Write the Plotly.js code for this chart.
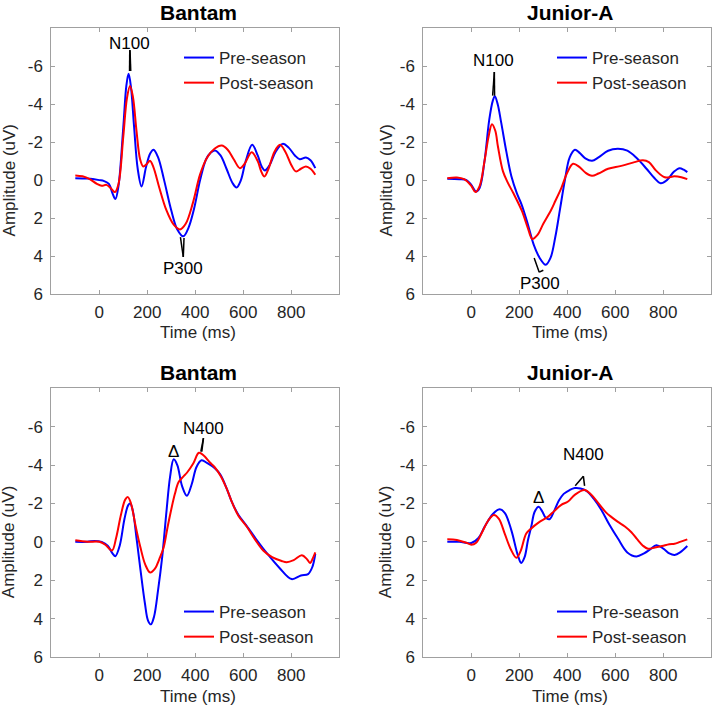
<!DOCTYPE html>
<html>
<head>
<meta charset="utf-8">
<script src="https://cdn.plot.ly/plotly-3.0.1.min.js"></script>
<style>html,body{margin:0;padding:0;background:#fff;}#chart{width:715px;height:709px;}</style>
</head>
<body>
<div id="chart"></div>
<script>
// ---------- data (time in ms, amplitude in uV) ----------
const panelTitles = ['Bantam', 'Junior-A', 'Bantam', 'Junior-A'];
const seriesNames = ['Pre-season', 'Post-season'];
const xTickVals = [0, 200, 400, 600, 800];
const yTickVals = [-6, -4, -2, 0, 2, 4, 6];
const yTickText = ['-6', '-4', '-2', '0', '2', '4', '6'];

// Top-left: Bantam (N100 / P300)
const bantamP3PreT = [-100,-50,0,20,40,55,67,80,100,113,122,132,145,160,176,195,212,226,245,270,300,325,350,372,395,420,445,465,482,505,530,555,572,590,610,637,660,677,690,710,735,764,790,815,835,861,880,900];
const bantamP3PreV = [-0.1,-0.08,0.0,0.05,0.2,0.7,1.0,0.3,-2.8,-5.0,-5.6,-4.9,-2.8,-0.6,0.33,-0.7,-1.4,-1.6,-1.2,0.0,1.6,2.6,2.96,2.5,1.5,0.0,-1.1,-1.45,-1.56,-1.3,-0.6,0.15,0.39,0.0,-1.0,-1.86,-1.3,-0.7,-0.51,-0.8,-1.5,-1.91,-1.7,-1.3,-1.1,-1.19,-1.05,-0.63];
const bantamP3PostT = [-100,-70,-40,-10,10,30,50,65,80,100,115,128,140,155,170,183,198,211,225,250,280,310,336,360,390,420,450,480,510,535,560,586,605,635,660,675,688,705,730,753,775,800,819,840,861,880,900];
const bantamP3PostV = [-0.25,-0.2,-0.05,0.2,0.3,0.25,0.45,0.63,0.2,-2.3,-4.3,-4.96,-4.4,-2.6,-1.1,-0.72,-0.85,-1.02,-0.7,0.4,1.6,2.35,2.6,2.3,1.2,-0.3,-1.2,-1.65,-1.82,-1.6,-1.1,-0.63,-0.85,-1.47,-1.0,-0.45,-0.19,-0.6,-1.5,-1.86,-1.5,-0.8,-0.46,-0.6,-0.72,-0.6,-0.28];

// Top-right: Junior-A (N100 / P300)
const juniorP3PreT = [-100,-50,-20,0,20,35,55,75,90,98,110,125,146,167,190,210,235,260,285,310,330,350,370,390,410,432,450,475,503,530,570,611,650,690,730,760,789,815,845,868,885,900];
const juniorP3PreV = [-0.07,-0.05,0.0,0.25,0.6,0.4,-1.0,-3.2,-4.2,-4.42,-4.0,-3.0,-1.5,-0.2,0.7,1.3,2.3,3.4,4.1,4.46,4.1,3.0,1.5,0.0,-1.2,-1.6,-1.45,-1.15,-1.02,-1.2,-1.55,-1.65,-1.55,-1.15,-0.6,-0.15,0.16,0.0,-0.45,-0.63,-0.55,-0.42];
const juniorP3PostT = [-100,-60,-30,0,17,35,55,72,86,100,111,132,153,175,210,235,254,275,300,333,350,375,400,424,450,475,503,530,570,625,680,715,740,770,806,847,875,900];
const juniorP3PostV = [-0.1,-0.14,-0.05,0.3,0.63,0.3,-1.0,-2.3,-2.95,-2.6,-1.77,-0.46,0.16,0.68,1.6,2.5,3.1,2.9,2.3,1.56,1.1,0.42,-0.4,-0.86,-0.7,-0.4,-0.23,-0.35,-0.6,-0.75,-0.95,-1.05,-0.95,-0.5,-0.15,-0.2,-0.15,-0.05];

// Bottom-left: Bantam (N400)
const bantamN4PreT = [-100,-50,-20,10,35,55,67,85,105,120,129,140,155,170,190,203,215,228,245,262,280,295,310,325,345,365,385,405,426,450,480,505,530,555,580,610,650,700,750,801,840,870,888,900];
const bantamN4PreV = [0.0,0.0,-0.05,0.0,0.2,0.6,0.75,0.2,-1.2,-1.9,-2.0,-1.6,-0.2,1.3,3.2,4.1,4.3,3.9,2.5,0.8,-1.6,-3.4,-4.3,-4.0,-2.9,-2.4,-3.0,-3.9,-4.25,-4.1,-3.85,-3.5,-2.8,-2.0,-1.4,-0.9,-0.2,0.62,1.35,1.94,1.75,1.68,1.3,0.63];
const bantamN4PostT = [-100,-50,0,25,53,70,90,108,119,132,150,171,192,212,232,250,268,285,300,315,330,350,365,392,415,435,460,480,505,530,555,580,614,650,683,720,760,781,810,844,865,878,890,900];
const bantamN4PostV = [-0.08,0.0,0.0,0.15,0.45,-0.2,-1.4,-2.2,-2.33,-2.0,-0.9,0.27,1.2,1.6,1.4,0.9,0.3,-0.8,-1.7,-2.5,-3.1,-3.4,-3.6,-4.1,-4.64,-4.5,-4.15,-3.9,-3.45,-2.8,-2.0,-1.35,-0.8,-0.1,0.45,0.8,1.0,1.06,0.95,0.7,0.9,1.1,0.85,0.55];

// Bottom-right: Junior-A (N400)
const juniorN4PreT = [-100,-50,0,30,56,90,118,140,167,194,208,222,236,250,264,281,295,310,326,345,365,385,410,431,455,480,510,542,575,611,650,688,720,745,771,800,825,847,870,900];
const juniorN4PreV = [0.0,0.0,0.06,-0.2,-0.8,-1.45,-1.7,-1.5,-0.6,0.7,1.1,0.8,-0.08,-0.8,-1.57,-1.83,-1.6,-1.25,-1.18,-1.6,-2.15,-2.5,-2.7,-2.8,-2.78,-2.65,-2.25,-1.66,-0.9,-0.17,0.55,0.76,0.6,0.4,0.18,0.35,0.6,0.68,0.55,0.22];
const juniorN4PostT = [-100,-60,-20,0,20,45,70,94,115,140,165,188,205,229,250,280,319,345,375,403,431,472,500,530,560,583,611,640,667,690,715,736,765,795,825,847,870,900];
const juniorN4PostV = [-0.13,-0.1,0.05,0.15,0.05,-0.5,-1.1,-1.4,-1.2,-0.4,0.4,0.83,0.5,-0.43,-0.7,-1.0,-1.3,-1.6,-1.93,-2.1,-2.45,-2.7,-2.45,-2.0,-1.55,-1.3,-1.04,-0.8,-0.5,-0.15,0.2,0.36,0.3,0.22,0.12,0.1,0.0,-0.13];

// ---------- styling / layout ----------
const FONT = 'Liberation Sans, Arial, Helvetica, sans-serif';
const TXT = '#262626';
const AXC = '#a0a0a0';
const W = 715, H = 709;
const px2x = p => p / W;
const px2y = p => 1 - p / H;

const colDom = [[51.3, 339.3], [423.3, 711.3]];
const rowDom = [[28.3, 294], [388.3, 657]];

const panels = [
  {pre: [bantamP3PreT, bantamP3PreV], post: [bantamP3PostT, bantamP3PostV], c: 0, r: 0},
  {pre: [juniorP3PreT, juniorP3PreV], post: [juniorP3PostT, juniorP3PostV], c: 1, r: 0},
  {pre: [bantamN4PreT, bantamN4PreV], post: [bantamN4PostT, bantamN4PostV], c: 0, r: 1},
  {pre: [juniorN4PreT, juniorN4PreV], post: [juniorN4PostT, juniorN4PostV], c: 1, r: 1}
];
const legendNames = ['legend', 'legend2', 'legend3', 'legend4'];
const colors = ['#0000ff', '#ff0000'];

const traces = [];
const layout = {
  width: W, height: H,
  margin: {l: 0, r: 0, t: 0, b: 0},
  paper_bgcolor: '#ffffff', plot_bgcolor: '#ffffff',
  font: {family: FONT, color: TXT, size: 17},
  showlegend: true,
  annotations: [], shapes: []
};

panels.forEach((p, i) => {
  const n = i + 1;
  const xa = 'x' + (n === 1 ? '' : n), ya = 'y' + (n === 1 ? '' : n);
  [p.pre, p.post].forEach((s, k) => {
    traces.push({
      type: 'scatter', mode: 'lines', x: s[0], y: s[1], name: seriesNames[k],
      xaxis: xa, yaxis: ya, legend: legendNames[i],
      line: {color: colors[k], width: 2, shape: 'spline', smoothing: 1},
      hoverinfo: 'skip'
    });
  });
  const cd = colDom[p.c], rd = rowDom[p.r];
  layout['xaxis' + (n === 1 ? '' : n)] = {
    domain: [px2x(cd[0]), px2x(cd[1])], range: [-200, 1000], anchor: ya,
    tickvals: xTickVals, ticks: 'inside', ticklen: 4, tickcolor: AXC,
    showline: true, linecolor: AXC, linewidth: 1, mirror: 'ticks',
    showgrid: false, zeroline: false, fixedrange: true,
    tickfont: {size: 17, color: TXT, family: FONT}, ticklabelstandoff: 3
  };
  layout['yaxis' + (n === 1 ? '' : n)] = {
    domain: [px2y(rd[1]), px2y(rd[0])], range: [6, -8], anchor: xa,
    tickvals: yTickVals, ticktext: yTickText, ticks: 'inside', ticklen: 4, tickcolor: AXC,
    showline: true, linecolor: AXC, linewidth: 1, mirror: 'ticks',
    showgrid: false, zeroline: false, fixedrange: true,
    tickfont: {size: 17, color: TXT, family: FONT}, ticklabelstandoff: 4
  };
  const cx = (cd[0] + cd[1]) / 2 + 3;
  // panel title
  layout.annotations.push({xref: 'paper', yref: 'paper', x: px2x(cx), y: px2y(rd[0] - 16),
    text: '<b>' + panelTitles[i] + '</b>', showarrow: false, xanchor: 'center', yanchor: 'middle',
    font: {size: 21, color: '#000', family: FONT}});
  // x title
  layout.annotations.push({xref: 'paper', yref: 'paper', x: px2x(cx), y: px2y(rd[1] + 39),
    text: 'Time (ms)', showarrow: false, xanchor: 'center', yanchor: 'middle',
    font: {size: 17, color: TXT, family: FONT}});
  // y title (centred on the 0 level)
  layout.annotations.push({xref: 'paper', yref: ya, x: px2x(cd[0] - (p.c === 0 ? 42 : 37)), y: 0,
    text: 'Amplitude (uV)', textangle: -90, showarrow: false, xanchor: 'center', yanchor: 'middle',
    font: {size: 17, color: TXT, family: FONT}});
  // legends
  const lx = p.c === 0 ? 179 : 552;
  const ly = p.r === 0 ? 40 : 594;
  layout[legendNames[i]] = {x: px2x(lx), y: px2y(ly), xanchor: 'left', yanchor: 'top',
    bgcolor: 'rgba(0,0,0,0)', borderwidth: 0, font: {size: 17, color: TXT, family: FONT},
    tracegroupgap: 0, itemclick: false, itemdoubleclick: false};
});

// ---------- component labels ----------
function label(xa, ya, x, y, text) {
  layout.annotations.push({xref: xa, yref: ya, x: x, y: y, text: text, showarrow: false,
    xanchor: 'center', yanchor: 'middle', font: {size: 17, color: '#000', family: FONT}});
}
function pointer(xa, ya, x0, y0, x1, y1) {
  layout.shapes.push({type: 'line', xref: xa, yref: ya, x0: x0, y0: y0, x1: x1, y1: y1,
    line: {color: '#000', width: 1.5}});
}
label('x', 'y', 124, -7.2, 'N100');
pointer('x', 'y', 127, -6.85, 126, -5.75); pointer('x', 'y', 128, -6.85, 131, -5.75);
label('x', 'y', 349, 4.63, 'P300');
pointer('x', 'y', 350, 4.05, 338, 3.0); pointer('x', 'y', 350, 4.05, 353, 3.05);

label('x2', 'y2', 94, -6.3, 'N100');
pointer('x2', 'y2', 96, -5.7, 89, -4.45); pointer('x2', 'y2', 96, -5.7, 97, -4.45);
label('x2', 'y2', 285, 5.43, 'P300');
pointer('x2', 'y2', 283, 4.85, 262, 4.1); pointer('x2', 'y2', 283, 4.85, 300, 4.75);

label('x3', 'y3', 311, -4.73, 'Δ');
label('x3', 'y3', 436, -5.9, 'N400');
pointer('x3', 'y3', 434, -5.4, 423, -4.7); pointer('x3', 'y3', 434, -5.4, 427, -4.7);

label('x4', 'y4', 280, -2.33, 'Δ');
label('x4', 'y4', 469, -4.55, 'N400');
pointer('x4', 'y4', 467, -3.42, 433, -2.92); pointer('x4', 'y4', 467, -3.42, 472, -2.92);

Plotly.newPlot('chart', traces, layout, {displayModeBar: false, staticPlot: true});
</script>
</body>
</html>
